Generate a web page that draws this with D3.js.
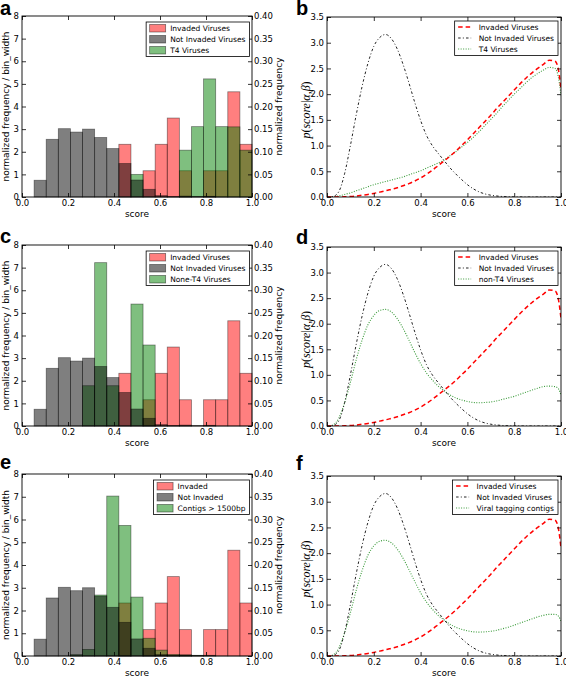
<!DOCTYPE html>
<html><head><meta charset="utf-8">
<script src="https://cdn.jsdelivr.net/npm/d3@7"></script>
<style>body{margin:0;background:#fff} svg{display:block}</style>
</head><body>
<svg id="c" width="566" height="676"></svg>
<script>
// ---------- DATA ----------
const binCount = 19; // equal-width bins on [0,1]
const invadedHist    = [0,0,0,0,0,0,0,0,2.33,0,1.16,2.33,3.49,1.16,0,1.16,1.16,4.65,2.33];
const notInvadedHist = [0,0.74,2.55,3.02,2.87,3.0,2.63,2.14,1.48,0.75,0.34,0.06,0.02,0.04,0.02,0.03,0,0,0];
const t4Hist         = [0,0,0,0,0,0,0,0,0,1.0,0,0,0,2.07,3.11,5.22,3.11,3.1,2.07];
const nonT4Hist      = [0,0,0,0,0,1.78,7.22,1.78,0,5.39,3.58,0,0,0,0,0,0,0,0];
const contigHist     = [0,0,0,0,0.06,0.29,2.68,7.03,5.74,2.59,0.78,0.26,0.07,0.05,0.03,0,0,0,0];

const gridX = [0,0.025,0.05,0.075,0.1,0.125,0.15,0.175,0.2,0.225,0.25,0.275,0.3,0.325,0.35,0.375,0.4,0.425,0.45,0.475,0.5,0.525,0.55,0.575,0.6,0.625,0.65,0.675,0.7,0.725,0.75,0.775,0.8,0.825,0.85,0.875,0.9,0.925,0.95,0.975,0.99,1.0];
const invadedPdf    = [0,0,0.001,0.004,0.01,0.02,0.035,0.05,0.07,0.095,0.12,0.15,0.18,0.22,0.26,0.31,0.37,0.44,0.52,0.61,0.7,0.79,0.89,1.0,1.11,1.23,1.35,1.47,1.59,1.72,1.84,1.96,2.08,2.2,2.31,2.41,2.5,2.58,2.66,2.64,2.45,2.1];
const notInvadedPdf = [0,0.01,0.1,0.45,1.0,1.6,2.15,2.6,2.93,3.1,3.16,3.08,2.88,2.58,2.22,1.84,1.49,1.2,1.0,0.85,0.71,0.57,0.45,0.34,0.24,0.16,0.1,0.06,0.035,0.02,0.01,0.005,0.002,0.001,0,0,0,0,0,0,0,0];
const t4Pdf         = [0,0.005,0.02,0.05,0.08,0.12,0.16,0.2,0.24,0.27,0.3,0.33,0.36,0.39,0.43,0.47,0.51,0.56,0.61,0.66,0.72,0.8,0.88,0.97,1.06,1.16,1.27,1.39,1.51,1.63,1.76,1.88,2.0,2.11,2.22,2.32,2.4,2.47,2.52,2.5,2.3,1.98];
const nonT4Pdf      = [0,0.02,0.15,0.45,0.85,1.3,1.68,1.98,2.16,2.26,2.28,2.23,2.1,1.91,1.68,1.44,1.22,1.04,0.9,0.78,0.69,0.61,0.55,0.51,0.48,0.46,0.455,0.46,0.47,0.49,0.52,0.55,0.58,0.62,0.66,0.7,0.74,0.77,0.78,0.77,0.72,0.6];
const contigPdf     = [0,0.02,0.15,0.45,0.84,1.28,1.66,1.96,2.14,2.23,2.25,2.2,2.08,1.9,1.68,1.45,1.23,1.05,0.91,0.79,0.7,0.62,0.56,0.52,0.49,0.47,0.465,0.47,0.48,0.5,0.53,0.56,0.6,0.64,0.68,0.72,0.76,0.79,0.81,0.81,0.77,0.67];

const xTicks = [0,0.2,0.4,0.6,0.8,1.0];
const histLeftTicks = [0,1,2,3,4,5,6,7,8];
const histRightTicks = [0,0.05,0.1,0.15,0.2,0.25,0.3,0.35,0.4];
const pdfTicks = [0,0.5,1.0,1.5,2.0,2.5,3.0,3.5];

const histLegends = [
  ["Invaded Viruses","Not Invaded Viruses","T4 Viruses"],
  ["Invaded Viruses","Not Invaded Viruses","None-T4 Viruses"],
  ["Invaded","Not Invaded","Contigs > 1500bp"]
];
const pdfLegends = [
  ["Invaded Viruses","Not Invaded Viruses","T4 Viruses"],
  ["Invaded Viruses","Not Invaded Viruses","non-T4 Viruses"],
  ["Invaded Viruses","Not Invaded Viruses","Viral tagging contigs"]
];
const letters = [["a","b"],["c","d"],["e","f"]];

// ---------- STYLE ----------
const FONT = "DejaVu Sans";
const TICK_FS = 8.5, LABEL_FS = 9, LEG_FS = 7.5;
const cRed = "#ff0000", cGray = "#000000", cGreen = "#008000";
const rows = [
  {hTop:16, pTop:17, bottom:197, letterY:[15,15]},
  {hTop:245, pTop:247, bottom:426, letterY:[243,244]},
  {hTop:474, pTop:476, bottom:656, letterY:[469,470]}
];
const hL = 22, hR = 252, pL = 327, pR = 561;

const svg = d3.select("#c");
svg.append("rect").attr("width",566).attr("height",676).attr("fill","#fff");

function styleAxis(g){
  g.select(".domain").remove();
  g.selectAll("text").attr("font-family",FONT).attr("font-size",TICK_FS).attr("fill","#000");
  g.selectAll("line").attr("stroke","#000").attr("stroke-width",0.8);
}

function frame(L,R,T,B){
  svg.append("rect").attr("x",L).attr("y",T).attr("width",R-L).attr("height",B-T)
    .attr("fill","none").attr("stroke","#000").attr("stroke-width",0.9);
}

function xAxes(x,T,B){
  const gb = svg.append("g").attr("transform",`translate(0,${B})`)
    .call(d3.axisBottom(x).tickValues(xTicks).tickFormat(d3.format(".1f")).tickSizeInner(-4).tickSizeOuter(0).tickPadding(3));
  styleAxis(gb);
  const gt = svg.append("g").attr("transform",`translate(0,${T})`)
    .call(d3.axisTop(x).tickValues(xTicks).tickFormat("").tickSizeInner(-4).tickSizeOuter(0));
  styleAxis(gt);
}

function legend(R,T,entries,kind){
  const g = svg.append("g");
  const box = g.append("rect").attr("fill","#fff").attr("stroke","#000").attr("stroke-width",0.8);
  const rowH = 11, textX = 24;
  let maxW = 0;
  entries.forEach((e,i)=>{
    const cy = T + 6 + i*rowH;
    if(kind==="hist"){
      g.append("rect").attr("x",3.5).attr("y",cy-3.5).attr("width",16).attr("height",7.5)
        .attr("fill",e.color).attr("fill-opacity",0.5).attr("stroke","#000").attr("stroke-opacity",0.5).attr("stroke-width",0.8);
    } else {
      g.append("line").attr("x1",3.5).attr("x2",16.5).attr("y1",cy).attr("y2",cy)
        .attr("stroke",e.color).attr("stroke-width",e.width).attr("stroke-dasharray",e.dash);
    }
    const t = g.append("text").attr("x",textX).attr("y",cy).attr("dy","0.35em")
      .attr("font-family",FONT).attr("font-size",LEG_FS).attr("fill","#000").text(e.name);
    maxW = Math.max(maxW, t.node().getComputedTextLength());
  });
  const w = textX + maxW + 4, h = entries.length*rowH + 1.5;
  const L = R - w;
  box.attr("x",0).attr("y",T).attr("width",w).attr("height",h);
  g.attr("transform",`translate(${L},0)`);
}

function histPanel(r, hist3, legendNames, letter){
  const T = rows[r].hTop, B = rows[r].bottom;
  const x = d3.scaleLinear().domain([0,1]).range([hL,hR]);
  const y = d3.scaleLinear().domain([0,8]).range([B,T]);
  const y2 = d3.scaleLinear().domain([0,0.4]).range([B,T]);
  const series = [
    {vals: invadedHist, color: cRed},
    {vals: hist3, color: cGreen},
    {vals: notInvadedHist, color: cGray}
  ];
  series.forEach(s=>{
    svg.append("g").selectAll("rect").data(s.vals).join("rect")
      .attr("x",(d,i)=>x(i/binCount)).attr("width",(d,i)=>x((i+1)/binCount)-x(i/binCount))
      .attr("y",d=>y(d)).attr("height",d=>y(0)-y(d))
      .attr("fill",s.color).attr("fill-opacity",0.5)
      .attr("stroke","#000").attr("stroke-opacity",0.45).attr("stroke-width",0.8)
      .attr("display",d=>d>0?null:"none");
  });
  frame(hL,hR,T,B);
  xAxes(x,T,B);
  const gl = svg.append("g").attr("transform",`translate(${hL},0)`)
    .call(d3.axisLeft(y).tickValues(histLeftTicks).tickFormat(d3.format("d")).tickSizeInner(-4).tickSizeOuter(0).tickPadding(3));
  styleAxis(gl);
  const gr = svg.append("g").attr("transform",`translate(${hR},0)`)
    .call(d3.axisRight(y2).tickValues(histRightTicks).tickFormat(d3.format(".2f")).tickSizeInner(-4).tickSizeOuter(0).tickPadding(2));
  styleAxis(gr);
  legend(hR-2.5, T+6, [
    {name:legendNames[0], color:cRed},
    {name:legendNames[1], color:cGray},
    {name:legendNames[2], color:cGreen}
  ], "hist");
  const mid = (T+B)/2;
  svg.append("text").attr("transform",`translate(8.5,${mid}) rotate(-90)`).attr("text-anchor","middle")
    .attr("font-family",FONT).attr("font-size",LABEL_FS).text("normalized frequency / bin_width");
  svg.append("text").attr("transform",`translate(281.5,${mid}) rotate(-90)`).attr("text-anchor","middle")
    .attr("font-family",FONT).attr("font-size",LABEL_FS).text("normalized frequency");
  svg.append("text").attr("x",(hL+hR)/2).attr("y",B+20).attr("text-anchor","middle")
    .attr("font-family",FONT).attr("font-size",LABEL_FS).text("score");
  svg.append("text").attr("x",0).attr("y",rows[r].letterY[0]).attr("font-family","Liberation Sans")
    .attr("font-weight","bold").attr("font-size",20).text(letter);
}

function pdfPanel(r, pdf3, legendNames, letter){
  const T = rows[r].pTop, B = rows[r].bottom;
  const x = d3.scaleLinear().domain([0,1]).range([pL,pR]);
  const y = d3.scaleLinear().domain([0,3.5]).range([B,T]);
  const clipId = "clip"+r;
  svg.append("clipPath").attr("id",clipId).append("rect").attr("x",pL).attr("y",T).attr("width",pR-pL).attr("height",B-T);
  const line = d3.line().x((d,i)=>x(gridX[i])).y(d=>y(d)).curve(d3.curveMonotoneX);
  const curves = [
    {vals: invadedPdf, color: cRed, dash:"4.5,3", width:1.5, name:legendNames[0]},
    {vals: notInvadedPdf, color:"#222", dash:"2.5,2.2,1,2.2", width:1, name:legendNames[1]},
    {vals: pdf3, color:"#3c9c3c", dash:"1,1.5", width:1.1, name:legendNames[2]}
  ];
  const cg = svg.append("g").attr("clip-path",`url(#${clipId})`);
  [curves[2],curves[1],curves[0]].forEach(c=>{
    cg.append("path").attr("d",line(c.vals)).attr("fill","none").attr("stroke",c.color)
      .attr("stroke-width",c.width).attr("stroke-dasharray",c.dash);
  });
  frame(pL,pR,T,B);
  xAxes(x,T,B);
  const gl = svg.append("g").attr("transform",`translate(${pL},0)`)
    .call(d3.axisLeft(y).tickValues(pdfTicks).tickFormat(d3.format(".1f")).tickSizeInner(-4).tickSizeOuter(0).tickPadding(3));
  styleAxis(gl);
  const gr = svg.append("g").attr("transform",`translate(${pR},0)`)
    .call(d3.axisRight(y).tickValues(pdfTicks).tickFormat("").tickSizeInner(-4).tickSizeOuter(0));
  styleAxis(gr);
  legend(pR-3, T+4, curves, "pdf");
  const mid = (T+B)/2 + 3;
  const lab = svg.append("text").attr("transform",`translate(310,${mid}) rotate(-90)`).attr("text-anchor","middle")
    .attr("font-family","Liberation Serif").attr("font-style","italic").attr("font-size",12);
  lab.append("tspan").text("p");
  lab.append("tspan").attr("font-style","normal").text("(");
  lab.append("tspan").text("score");
  lab.append("tspan").attr("font-style","normal").text("|");
  lab.append("tspan").text("α,β");
  lab.append("tspan").attr("font-style","normal").text(")");
  svg.append("text").attr("x",(pL+pR)/2).attr("y",B+20).attr("text-anchor","middle")
    .attr("font-family",FONT).attr("font-size",LABEL_FS).text("score");
  svg.append("text").attr("x",296).attr("y",rows[r].letterY[1]).attr("font-family","Liberation Sans")
    .attr("font-weight","bold").attr("font-size",20).text(letter);
}

const thirdHists = [t4Hist, nonT4Hist, contigHist];
const thirdPdfs = [t4Pdf, nonT4Pdf, contigPdf];
for(let r=0;r<3;r++){
  histPanel(r, thirdHists[r], histLegends[r], letters[r][0]);
  pdfPanel(r, thirdPdfs[r], pdfLegends[r], letters[r][1]);
}
</script>
</body></html>
